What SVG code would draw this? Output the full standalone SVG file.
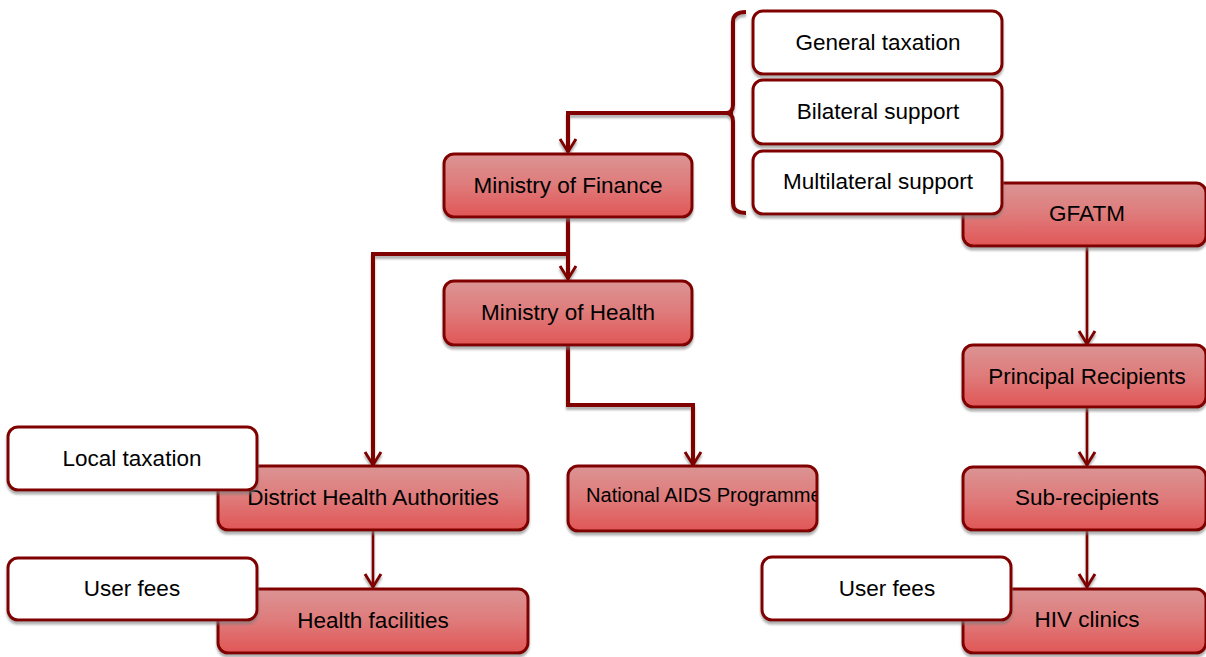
<svg xmlns="http://www.w3.org/2000/svg" width="1206" height="657" viewBox="0 0 1206 657">
  <defs>
    <linearGradient id="redFill" x1="0" y1="0" x2="0" y2="1">
      <stop offset="0" stop-color="#db9494"/>
      <stop offset="0.5" stop-color="#df7a7a"/>
      <stop offset="1" stop-color="#e15656"/>
    </linearGradient>
    <filter id="shadow" x="-5%" y="-10%" width="110%" height="130%">
      <feDropShadow dx="0" dy="3" stdDeviation="1" flood-color="#7a7a7a" flood-opacity="0.6"/>
    </filter>
    <marker id="arrow" markerUnits="userSpaceOnUse" markerWidth="24" markerHeight="24" viewBox="-16 -12 20 24" refX="0" refY="0" orient="auto">
      <path d="M-13,-8 L0,0 L-13,8" fill="none" stroke="#800000" stroke-width="3" stroke-linejoin="miter"/>
    </marker>
    <clipPath id="napClip">
      <rect x="570" y="467" width="246.5" height="62" rx="9"/>
    </clipPath>
    <style>
      .red { fill: url(#redFill); stroke: #800000; stroke-width: 3; filter: url(#shadow); }
      .white { fill: #ffffff; stroke: #800000; stroke-width: 3; filter: url(#shadow); }
      .label { font-family: "Liberation Sans", Arial, sans-serif; font-size: 22.5px; fill: #000000; text-anchor: middle; }
      .small { font-size: 20.1px; text-anchor: start; }
      .conn { fill: none; stroke: #800000; stroke-linejoin: miter; }
      .thick { stroke-width: 4; }
      .thin { stroke-width: 2.7; }
    </style>
  </defs>

  <!-- connectors -->
  <g id="connectors" filter="url(#shadow)">
    <path class="conn thick" d="M746,12 Q733,12 733,22 L733,105 Q733,112 727,113 Q733,114 733,121 L733,203 Q733,213 746,213"/>
    <path class="conn thick" d="M733,113 L568,113 L568,152" marker-end="url(#arrow)"/>
    <path class="conn thick" d="M568,218 L568,279" marker-end="url(#arrow)"/>
    <path class="conn thick" d="M568,254 L373,254 L373,465" marker-end="url(#arrow)"/>
    <path class="conn thick" d="M568,346 L568,405 L693,405 L693,465" marker-end="url(#arrow)"/>
    <path class="conn thin" d="M373,531 L373,587" marker-end="url(#arrow)"/>
    <path class="conn thin" d="M1087,247 L1087,344" marker-end="url(#arrow)"/>
    <path class="conn thin" d="M1087,408 L1087,465" marker-end="url(#arrow)"/>
    <path class="conn thin" d="M1087,531 L1087,587" marker-end="url(#arrow)"/>
  </g>

  <!-- central government chain -->
  <g id="ministry-of-finance">
    <rect class="red" x="444" y="154" width="248" height="63" rx="10"/>
    <text class="label" x="568" y="193">Ministry of Finance</text>
  </g>
  <g id="ministry-of-health">
    <rect class="red" x="444" y="281" width="248" height="64" rx="10"/>
    <text class="label" x="568" y="320">Ministry of Health</text>
  </g>
  <g id="district-health-authorities">
    <rect class="red" x="218" y="466" width="310" height="64" rx="10"/>
    <text class="label" x="373" y="505">District Health Authorities</text>
  </g>
  <g id="local-taxation">
    <rect class="white" x="8" y="427" width="249" height="63" rx="10"/>
    <text class="label" x="132" y="466">Local taxation</text>
  </g>
  <g id="health-facilities">
    <rect class="red" x="218" y="589" width="310" height="64" rx="10"/>
    <text class="label" x="373" y="628">Health facilities</text>
  </g>
  <g id="user-fees-facilities">
    <rect class="white" x="8" y="558" width="249" height="62" rx="10"/>
    <text class="label" x="132" y="596">User fees</text>
  </g>
  <g id="national-aids-programme">
    <rect class="red" x="568" y="466" width="249" height="65" rx="10"/>
    <text class="label small" x="586" y="502" clip-path="url(#napClip)">National AIDS Programme</text>
  </g>

  <!-- global fund chain -->
  <g id="gfatm">
    <rect class="red" x="963" y="183" width="243" height="63" rx="10"/>
    <text class="label" x="1087" y="221">GFATM</text>
  </g>
  <g id="general-taxation">
    <rect class="white" x="753" y="11" width="249" height="63" rx="10"/>
    <text class="label" x="878" y="50">General taxation</text>
  </g>
  <g id="bilateral-support">
    <rect class="white" x="753" y="80" width="249" height="64" rx="10"/>
    <text class="label" x="878" y="119">Bilateral support</text>
  </g>
  <g id="multilateral-support">
    <rect class="white" x="753" y="151" width="249" height="63" rx="10"/>
    <text class="label" x="878" y="189">Multilateral support</text>
  </g>
  <g id="principal-recipients">
    <rect class="red" x="963" y="345" width="243" height="62" rx="10"/>
    <text class="label" x="1087" y="384">Principal Recipients</text>
  </g>
  <g id="sub-recipients">
    <rect class="red" x="963" y="467" width="243" height="63" rx="10"/>
    <text class="label" x="1087" y="505">Sub-recipients</text>
  </g>
  <g id="hiv-clinics">
    <rect class="red" x="963" y="589" width="243" height="64" rx="10"/>
    <text class="label" x="1087" y="627">HIV clinics</text>
  </g>
  <g id="user-fees-clinics">
    <rect class="white" x="762" y="557" width="249" height="63" rx="10"/>
    <text class="label" x="887" y="596">User fees</text>
  </g>
</svg>
